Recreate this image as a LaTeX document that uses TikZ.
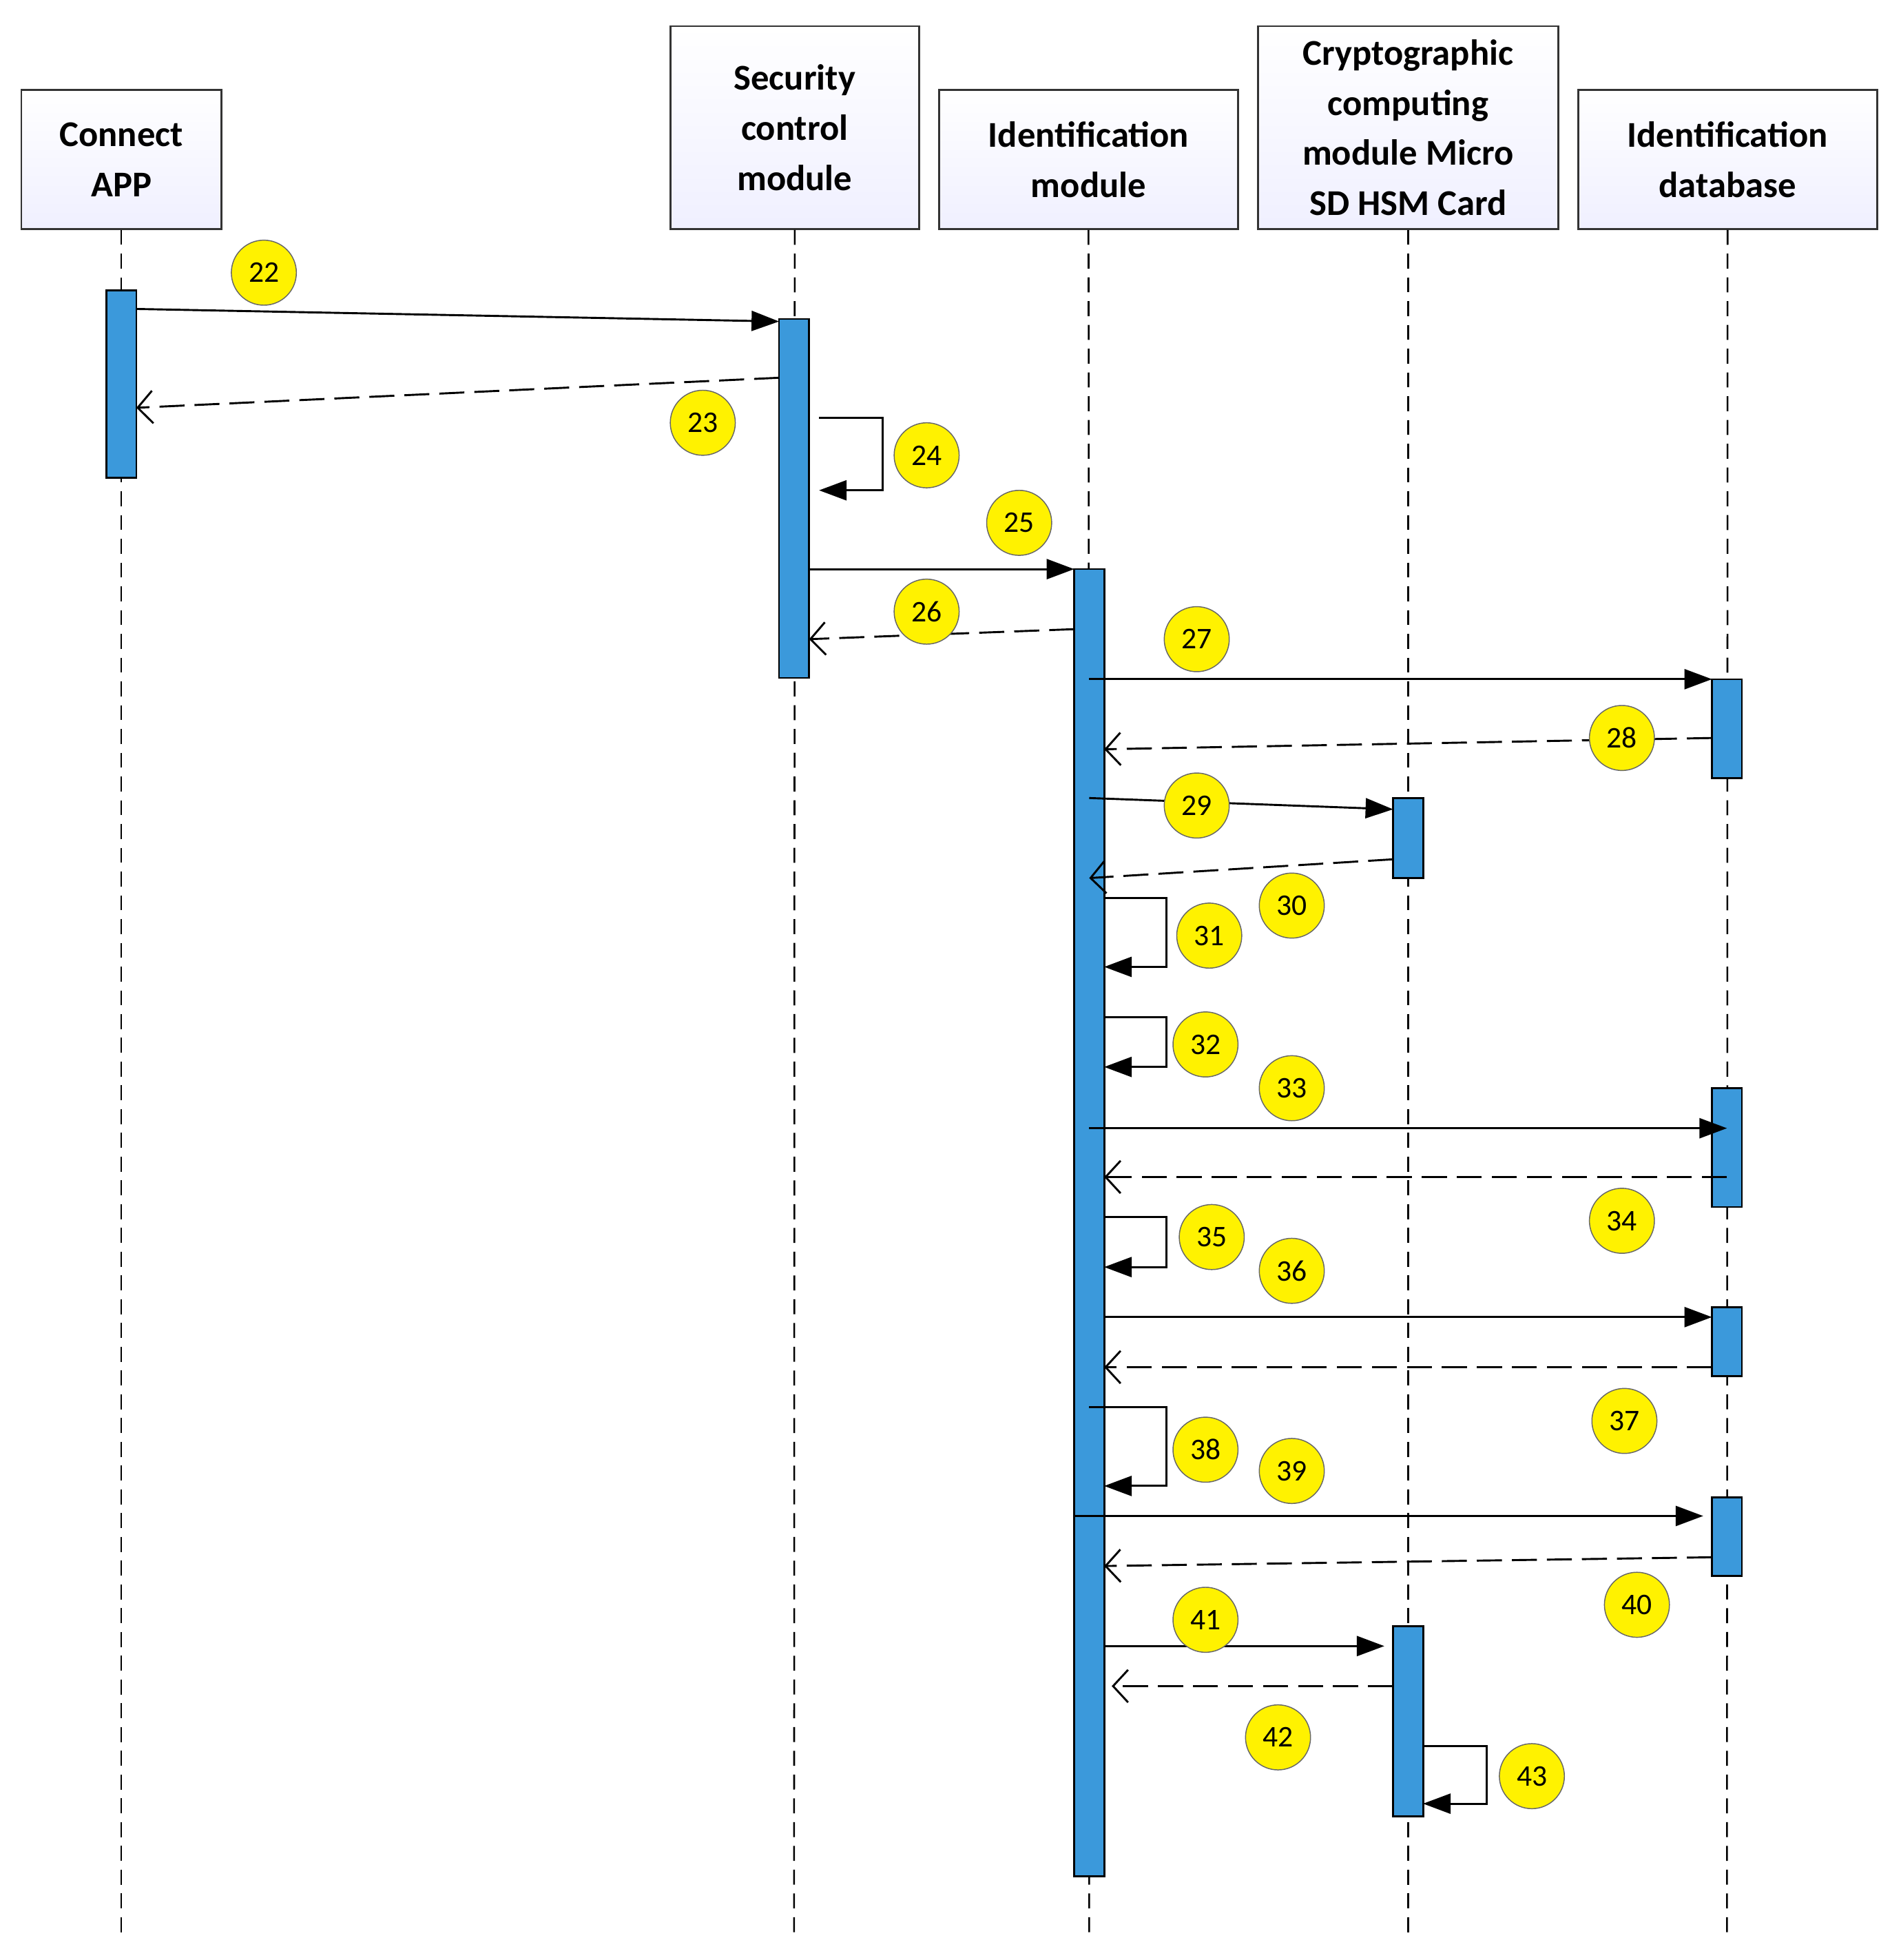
\documentclass[tikz,border=0pt]{standalone}
\usepackage{fontspec}
\setmainfont{Carlito}
\usetikzlibrary{arrows.meta}
\begin{document}
\begin{tikzpicture}[x=1pt,y=-1pt,
 hdr/.style={draw=black!80,line width=1.5pt,top color=white,bottom color=blue!6,align=center,font=\fontsize{29}{40}\selectfont\bfseries,inner sep=0pt},
 life/.style={dashed,line width=1.4pt,dash pattern=on 12pt off 7pt},
 act/.style={draw=black,line width=1.5pt,fill=cyan!70!blue!80,minimum width=24pt,inner sep=0pt},
 msg/.style={line width=1.6pt,-{Triangle[length=22pt,width=16pt]}},
 ret/.style={line width=1.6pt,dash pattern=on 20pt off 8pt,-{Straight Barb[length=12pt,width=26pt,line width=1.6pt]}},
 num/.style={circle,draw=black!60,line width=0.8pt,fill=yellow,minimum size=52pt,inner sep=0pt,font=\fontsize{24}{28}\selectfont},
]
\useasboundingbox (0,0) rectangle (1520,1567);
% headers
\node[hdr,minimum width=160pt,minimum height=111pt] (h1) at (97,127.5) {Connect\\APP};
\node[hdr,minimum width=199pt,minimum height=162pt] (h2) at (635.5,102) {Security\\control\\module};
\node[hdr,minimum width=239pt,minimum height=111pt] (h3) at (870.5,127.5) {Identification\\module};
\node[hdr,minimum width=240pt,minimum height=162pt] (h4) at (1126,102) {Cryptographic\\computing\\module Micro\\SD HSM Card};
\node[hdr,minimum width=239pt,minimum height=111pt] (h5) at (1381.5,127.5) {Identification\\database};
% lifelines
\foreach \x/\n in {97/1,635/2,871/3,1126/4,1381/5}{\coordinate (e\n) at (\x,1550); \draw[life] (h\n.south) -- (e\n);}
% activations
\node[act,minimum height=150pt] (a1) at (97,307) {};
\node[act,minimum height=287pt] (a2) at (635,398.5) {};
\node[act,minimum height=1045pt] (a3) at (871,977.5) {};
\node[act,minimum height=79pt] (d1) at (1381,582.5) {};
\node[act,minimum height=95pt] (d2) at (1381,917.5) {};
\node[act,minimum height=55pt] (d3) at (1381,1072.5) {};
\node[act,minimum height=63pt] (d4) at (1381,1228.5) {};
\node[act,minimum height=64pt] (c1) at (1126,670) {};
\node[act,minimum height=152pt] (c2) at (1126,1376) {};
% messages
\draw[msg] (109,247) -- (623,257);
\draw[ret] (623,302) -- (109,326);
\draw[msg] (655,334) -- (706,334) -- (706,392) -- (655,392);
\draw[msg] (647,455) -- (859,455);
\draw[ret] (859,503) -- (647,511);
\draw[msg] (871,543) -- (1369,543);
\draw[ret] (1369,590) -- (883,599);
\draw[msg] (871,638) -- (1114,647);
\draw[ret] (1114,687) -- (871,702);
\draw[msg] (883,718) -- (933,718) -- (933,773) -- (883,773);
\draw[msg] (883,813) -- (933,813) -- (933,853) -- (883,853);
\draw[msg] (871,902) -- (1381,902);
\draw[ret] (1381,941) -- (883,941);
\draw[msg] (883,973) -- (933,973) -- (933,1013) -- (883,1013);
\draw[msg] (883,1053) -- (1369,1053);
\draw[ret] (1369,1093) -- (883,1093);
\draw[msg] (871,1125) -- (933,1125) -- (933,1188) -- (883,1188);
\draw[msg] (859,1212) -- (1362,1212);
\draw[ret] (1369,1245) -- (883,1252);
\draw[msg] (883,1316) -- (1107,1316);
\draw[ret] (1114,1348) -- (889,1348);
\draw[msg] (1138,1396) -- (1189,1396) -- (1189,1442) -- (1138,1442);
% labels
\foreach \x/\y/\t in {211/218/22,562/338/23,741/364/24,815/418/25,741/489/26,957/511/27,1297/590/28,957/644/29,1033/724/30,967/748/31,964/835/32,1033/870/33,1297/976/34,969/989/35,1033/1016/36,1299/1136/37,964/1159/38,1033/1176/39,1309/1283/40,964/1295/41,1022/1389/42,1225/1420/43}
  \node[num] (n\t) at (\x,\y) {\t};
\end{tikzpicture}
\end{document}
